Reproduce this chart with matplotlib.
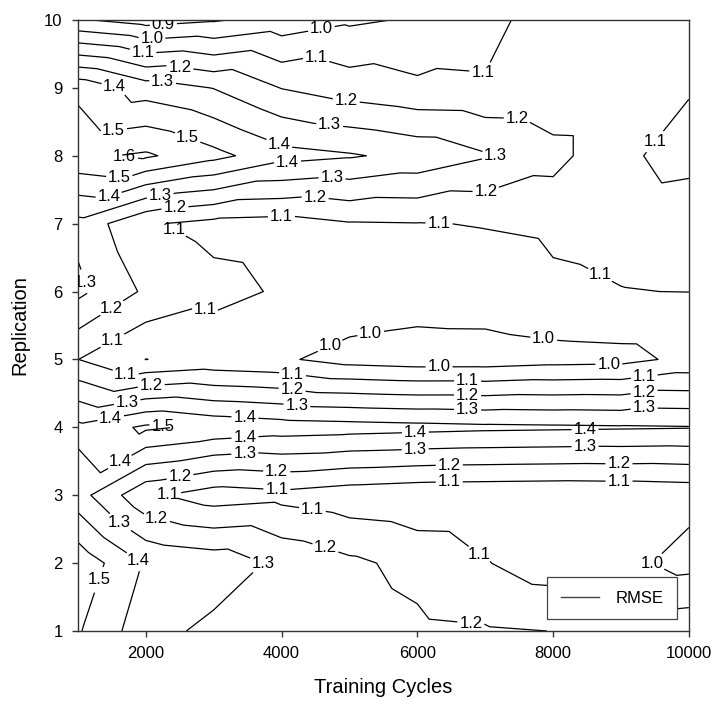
import numpy as np
import matplotlib.pyplot as plt
import matplotlib.tri as mtri
from matplotlib.lines import Line2D

plt.rcParams['font.family'] = ['Liberation Sans', 'DejaVu Sans']

# grid of the measurements
cycles = [1000, 2000, 3000, 4000, 5000, 6000, 7000, 8000, 9000, 10000]
replications = [1, 2, 3, 4, 5, 6, 7, 8, 9, 10]

# RMSE, one list per replication (columns follow the training cycles)
rmse_rep1 = [1.51, 1.34, 1.273, 1.26, 1.25, 1.22, 1.21, 1.199, 1.15, 1.17]
rmse_rep2 = [1.57, 1.39, 1.36, 1.277, 1.22, 1.17, 1.105, 1.05, 1.028, 0.967]
rmse_rep3 = [1.342, 1.121, 1.05, 1.07, 1.04, 1.024, 1.02, 1.016, 1.02, 1.03]
rmse_rep4 = [1.426, 1.5175, 1.474, 1.45, 1.44, 1.43, 1.42, 1.415, 1.41, 1.405]
rmse_rep5 = [1.101, 0.999, 1.03, 1.014, 0.962, 0.947, 0.948, 0.964, 0.97, 1.025]
rmse_rep6 = [1.325, 1.183, 1.13, 1.089, 1.077, 1.057, 1.064, 1.09, 1.0987, 1.101]
rmse_rep7 = [1.27, 1.111, 1.07, 1.06, 1.093, 1.097, 1.103, 1.11, 1.115, 1.12]
rmse_rep8 = [1.58, 1.615, 1.53, 1.437, 1.41, 1.37, 1.31, 1.24, 1.105, 1.09]
rmse_rep9 = [1.473, 1.351, 1.297, 1.197, 1.15, 1.12, 1.115, 1.11, 1.105, 1.102]
rmse_rep10 = [0.91, 0.86, 0.89, 0.94, 0.985, 1.01, 1.05, 1.18, 1.15, 1.13]

levels = [0.9, 1.0, 1.1, 1.2, 1.3, 1.4, 1.5, 1.6]
x_ticks = [2000, 4000, 6000, 8000, 10000]

# where the contour labels sit (cycles, replication)
label_spots = [
    (2260, 9.92), (2090, 9.72), (4590, 9.85), (1960, 9.53), (4490, 9.37),
    (6960, 9.19), (2500, 9.29), (4950, 8.79), (7470, 8.45), (2250, 9.11),
    (4710, 8.47), (7160, 8.01), (1540, 9.01), (3970, 8.19), (1500, 8.57),
    (2620, 8.28), (1690, 8.00), (1620, 7.75), (4090, 7.88), (1430, 7.48),
    (2210, 7.42), (4740, 7.64), (2430, 7.23), (4490, 7.35), (7020, 7.45),
    (2430, 6.94), (4000, 7.05), (6320, 7.00), (9410, 8.28), (8650, 6.17),
    (1150, 6.15), (1515, 5.73), (1500, 5.29), (2870, 5.73), (4710, 5.21),
    (5320, 5.34), (7870, 5.37), (6320, 4.87), (8820, 4.95), (1720, 4.84),
    (4160, 4.77), (6740, 4.70), (9340, 4.77), (2080, 4.61), (4160, 4.59),
    (6740, 4.48), (9340, 4.52), (1720, 4.40), (4220, 4.28), (6740, 4.25),
    (9340, 4.28), (1470, 4.21), (3460, 4.14), (5970, 3.96), (8470, 3.96),
    (3460, 3.86), (1500, 3.70), (2250, 4.00), (3460, 3.59), (5970, 3.64),
    (8470, 3.70), (2500, 3.30), (3930, 3.37), (6470, 3.49), (8970, 3.52),
    (2320, 3.03), (3930, 3.09), (6470, 3.16), (8970, 3.19), (4460, 2.83),
    (1620, 2.60), (2160, 2.66), (4660, 2.27), (1910, 2.08), (1320, 1.75),
    (3850, 1.93), (6910, 2.12), (9310, 2.10), (6790, 1.13),
]

Z = np.array([rmse_rep1, rmse_rep2, rmse_rep3, rmse_rep4, rmse_rep5,
              rmse_rep6, rmse_rep7, rmse_rep8, rmse_rep9, rmse_rep10])
X, Y = np.meshgrid(cycles, replications)

# triangulate each grid cell along its lower-left/upper-right diagonal
nx, ny = len(cycles), len(replications)
tris = []
for j in range(ny - 1):
    for i in range(nx - 1):
        a = j * nx + i
        b = a + 1
        c = a + nx + 1
        d = a + nx
        tris.append([a, b, c])
        tris.append([a, c, d])
tri = mtri.Triangulation(X.ravel(), Y.ravel(), np.array(tris))

fig = plt.figure(figsize=(7.15, 7.04), dpi=100)
ax = fig.add_axes([0.109, 0.1037, 0.8545, 0.8679])

cs = ax.tricontour(tri, Z.ravel(), levels=levels, colors='black', linewidths=0.9)
ax.set_xlim(cycles[0], cycles[-1])
ax.set_ylim(replications[0], replications[-1])

labels = ax.clabel(cs, fmt='%.1f', fontsize=12, inline=True, inline_spacing=2,
                   manual=label_spots)
for t in labels:
    t.set_rotation(0)

ax.set_xticks(x_ticks)
ax.set_yticks(replications)
ax.tick_params(direction='out', length=4.5, width=1, pad=6.5, labelsize=12,
               top=False, right=False, color='#333333')
for sp in ax.spines.values():
    sp.set_linewidth(1.0)
    sp.set_color('#333333')

ax.set_xlabel('Training Cycles', fontsize=14.5, labelpad=12)
ax.set_ylabel('Replication', fontsize=14.5, labelpad=11)

handle = Line2D([], [], color='#444444', linewidth=1.0)
leg = ax.legend([handle], ['RMSE'], loc='lower right', fontsize=12, fancybox=False,
                framealpha=1, edgecolor='#444444', handlelength=2.3,
                borderpad=0.8, borderaxespad=0.72, handletextpad=1.0)
leg.get_frame().set_linewidth(0.9)

fig.savefig('out.png', dpi=100)
